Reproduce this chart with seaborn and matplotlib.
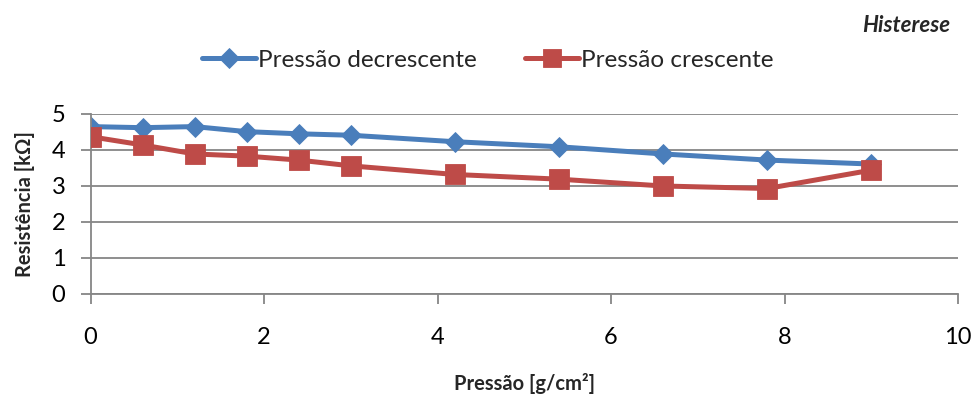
import matplotlib
matplotlib.use("Agg")
import matplotlib.pyplot as plt
import seaborn as sns
import pandas as pd
from matplotlib.lines import Line2D

pressao = [0.0, 0.6, 1.2, 1.8, 2.4, 3.0, 4.2, 5.4, 6.6, 7.8, 9.0]
res_decrescente = [4.65, 4.62, 4.65, 4.51, 4.45, 4.41, 4.23, 4.09, 3.89, 3.72, 3.61]
res_crescente = [4.37, 4.14, 3.89, 3.83, 3.72, 3.56, 3.32, 3.19, 3.00, 2.93, 3.44]
series_names = ["Pressão decrescente", "Pressão crescente"]
x_ticks = [0, 2, 4, 6, 8, 10]
y_ticks = [0, 1, 2, 3, 4, 5]

df = pd.DataFrame({
    "x": pressao * 2,
    "y": res_decrescente + res_crescente,
    "serie": [series_names[0]] * len(pressao) + [series_names[1]] * len(pressao),
})

sns.set_theme(style="white")
plt.rcParams["font.family"] = ["Lato", "DejaVu Sans"]

fig = plt.figure(figsize=(9.76, 4.0), dpi=100)
ax = fig.add_axes([90.5 / 976, 1 - 294 / 400, (958 - 90.5) / 976, 180 / 400])

palette = {series_names[0]: "#4A7EBB", series_names[1]: "#BE4B48"}
markers = {series_names[0]: "D", series_names[1]: "s"}
sns.lineplot(data=df, x="x", y="y", hue="serie", style="serie",
             palette=palette, markers=markers, dashes=False,
             linewidth=3.6, ax=ax, legend=False, sort=False)

sizes = {series_names[0]: 10.5, series_names[1]: 14}
for line, name in zip(ax.get_lines(), series_names):
    line.set_markersize(sizes[name])
    line.set_markeredgewidth(0.6)
    line.set_markeredgecolor(palette[name])
    line.set_markerfacecolor(palette[name])
    line.set_solid_capstyle("round")
    line.set_solid_joinstyle("round")
    line.set_zorder(3 if name == series_names[1] else 2)

ax.set_xlim(0, 10)
ax.set_ylim(0, 5)
ax.set_xticks(x_ticks)
ax.set_yticks(y_ticks)
ax.tick_params(axis="both", labelsize=17, colors="#868686", labelcolor="black",
               length=7, width=1.3, direction="out", bottom=True, left=True)
ax.tick_params(axis="x", pad=17)
ax.tick_params(axis="y", pad=11)
ax.yaxis.grid(True, color="#868686", linewidth=1.3)
ax.xaxis.grid(False)
for s in ["top", "right"]:
    ax.spines[s].set_visible(False)
for s in ["left", "bottom"]:
    ax.spines[s].set_color("#868686")
    ax.spines[s].set_linewidth(1.3)
ax.set_axisbelow(True)

ax.set_xlabel("Pressão [g/cm²]", fontsize=14.5, fontweight="bold", labelpad=18)
ax.set_ylabel("Resistência [kΩ]", fontsize=14.5, fontweight="bold", labelpad=12)

handles = [
    Line2D([], [], color=palette[n], marker=markers[n], markersize=sizes[n] * 0.95,
           markeredgecolor=palette[n], linewidth=3.6, markeredgewidth=0.6)
    for n in series_names
]
fig.legend(handles, series_names, loc="center", bbox_to_anchor=(0.5, 0.85),
           ncol=2, frameon=False, fontsize=17.5, handlelength=2.2,
           handletextpad=0.1, columnspacing=2.0)

fig.text(950 / 976, 1 - 25 / 400, "Histerese", ha="right", va="center",
         fontsize=16, fontweight="bold", fontstyle="italic")

fig.savefig("out.png", dpi=100, facecolor="white")
